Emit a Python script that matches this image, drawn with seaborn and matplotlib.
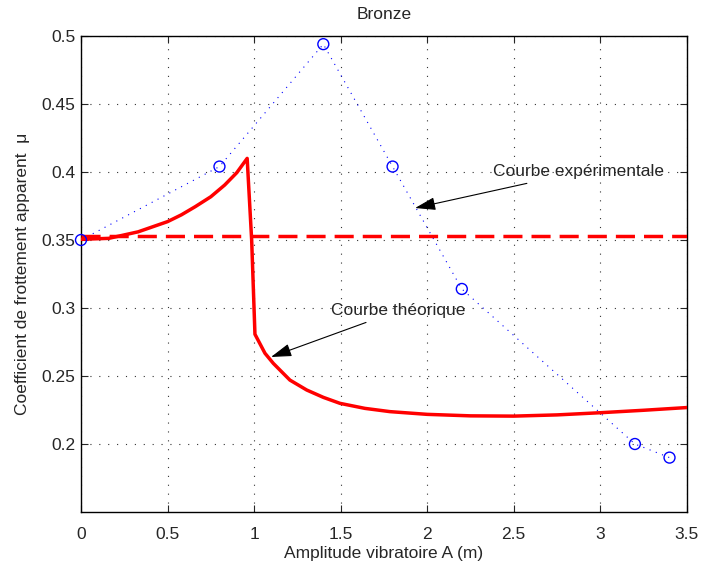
import numpy as np
import pandas as pd
import seaborn as sns
import matplotlib
matplotlib.use("Agg")
import matplotlib.pyplot as plt

# Experimental points (blue circles)
amp_exp = [0.0, 0.8, 1.4, 1.8, 2.2, 3.2, 3.4]
mu_exp = [0.350, 0.404, 0.494, 0.404, 0.314, 0.200, 0.190]

# Theoretical curve (red)
amp_th = [0.0, 0.16, 0.33, 0.5, 0.58, 0.66, 0.75, 0.83, 0.9, 0.96,
          0.986, 1.005, 1.063, 1.111, 1.207, 1.304, 1.4, 1.496, 1.64, 1.785,
          2.0, 2.25, 2.5, 2.75, 3.0, 3.25, 3.5]
mu_th = [0.3505, 0.3512, 0.356, 0.3635, 0.3685, 0.3745, 0.3818, 0.3904, 0.3995, 0.410,
         0.350, 0.2807, 0.2667, 0.2593, 0.247, 0.2397, 0.2343, 0.2299, 0.2262, 0.2238,
         0.2218, 0.2207, 0.2205, 0.2214, 0.2230, 0.2248, 0.2268]

# Constant friction coefficient (dashed red)
mu_const = 0.353
amp_range = [0.0, 3.5]

df_exp = pd.DataFrame({"A": amp_exp, "mu": mu_exp})
df_th = pd.DataFrame({"A": amp_th, "mu": mu_th})
df_const = pd.DataFrame({"A": amp_range, "mu": [mu_const, mu_const]})

sns.set_style("ticks")
plt.rcParams["font.family"] = ["Liberation Sans", "DejaVu Sans"]
fs = 12.5

fig = plt.figure(figsize=(7.03, 5.65), dpi=100)
ax = fig.add_axes([0.1152, 0.0938, 0.8618, 0.8425])

# experimental: dotted line + open circles
sns.lineplot(data=df_exp, x="A", y="mu", ax=ax, color="blue",
             linestyle=(0, (1, 5)), linewidth=0.8, estimator=None, sort=False,
             zorder=2)
sns.scatterplot(data=df_exp, x="A", y="mu", ax=ax, marker="o", s=62,
                facecolor="none", edgecolor="blue", linewidth=1.0, zorder=4,
                clip_on=False)

# theoretical curve
sns.lineplot(data=df_th, x="A", y="mu", ax=ax, color="red", linewidth=2.5,
             estimator=None, sort=False, zorder=3)

# constant mu
sns.lineplot(data=df_const, x="A", y="mu", ax=ax, color="red", linewidth=2.5,
             estimator=None, zorder=3)
ax.lines[-1].set_dashes((5.5, 2.6))

ax.set_xlim(0, 3.5)
ax.set_ylim(0.15, 0.5)
ax.set_xticks(np.arange(0, 3.51, 0.5))
ax.set_xticklabels(["0", "0.5", "1", "1.5", "2", "2.5", "3", "3.5"])
ax.set_yticks([0.2, 0.25, 0.3, 0.35, 0.4, 0.45, 0.5])
ax.set_yticklabels(["0.2", "0.25", "0.3", "0.35", "0.4", "0.45", "0.5"])

ax.grid(True, color="#333333", linestyle=(0, (1, 7)), linewidth=0.8)
ax.tick_params(direction="in", top=True, right=True, length=5, width=0.8,
               labelsize=fs)
ax.tick_params(axis="x", pad=11)
ax.tick_params(axis="y", pad=4)
for s in ax.spines.values():
    s.set_linewidth(1.0)
    s.set_color("black")

ax.set_title("Bronze", fontsize=fs, pad=12)
ax.set_xlabel("Amplitude vibratoire A (m)", fontsize=fs, labelpad=3)
ax.set_ylabel("Coefficient de frottement apparent  \u03bc", fontsize=fs, labelpad=8)

arrow = dict(arrowstyle="-|>,head_length=0.7,head_width=0.22", color="black",
             linewidth=0.8, mutation_scale=18, shrinkA=2, shrinkB=0)
ax.annotate("Courbe exp\u00e9rimentale", xy=(1.93, 0.3735), xytext=(2.38, 0.4),
            fontsize=fs, va="center", ha="left", arrowprops=arrow)
ax.annotate("Courbe th\u00e9orique", xy=(1.098, 0.264), xytext=(1.445, 0.298),
            fontsize=fs, va="center", ha="left", arrowprops=arrow)

fig.savefig("out.png", dpi=100)
